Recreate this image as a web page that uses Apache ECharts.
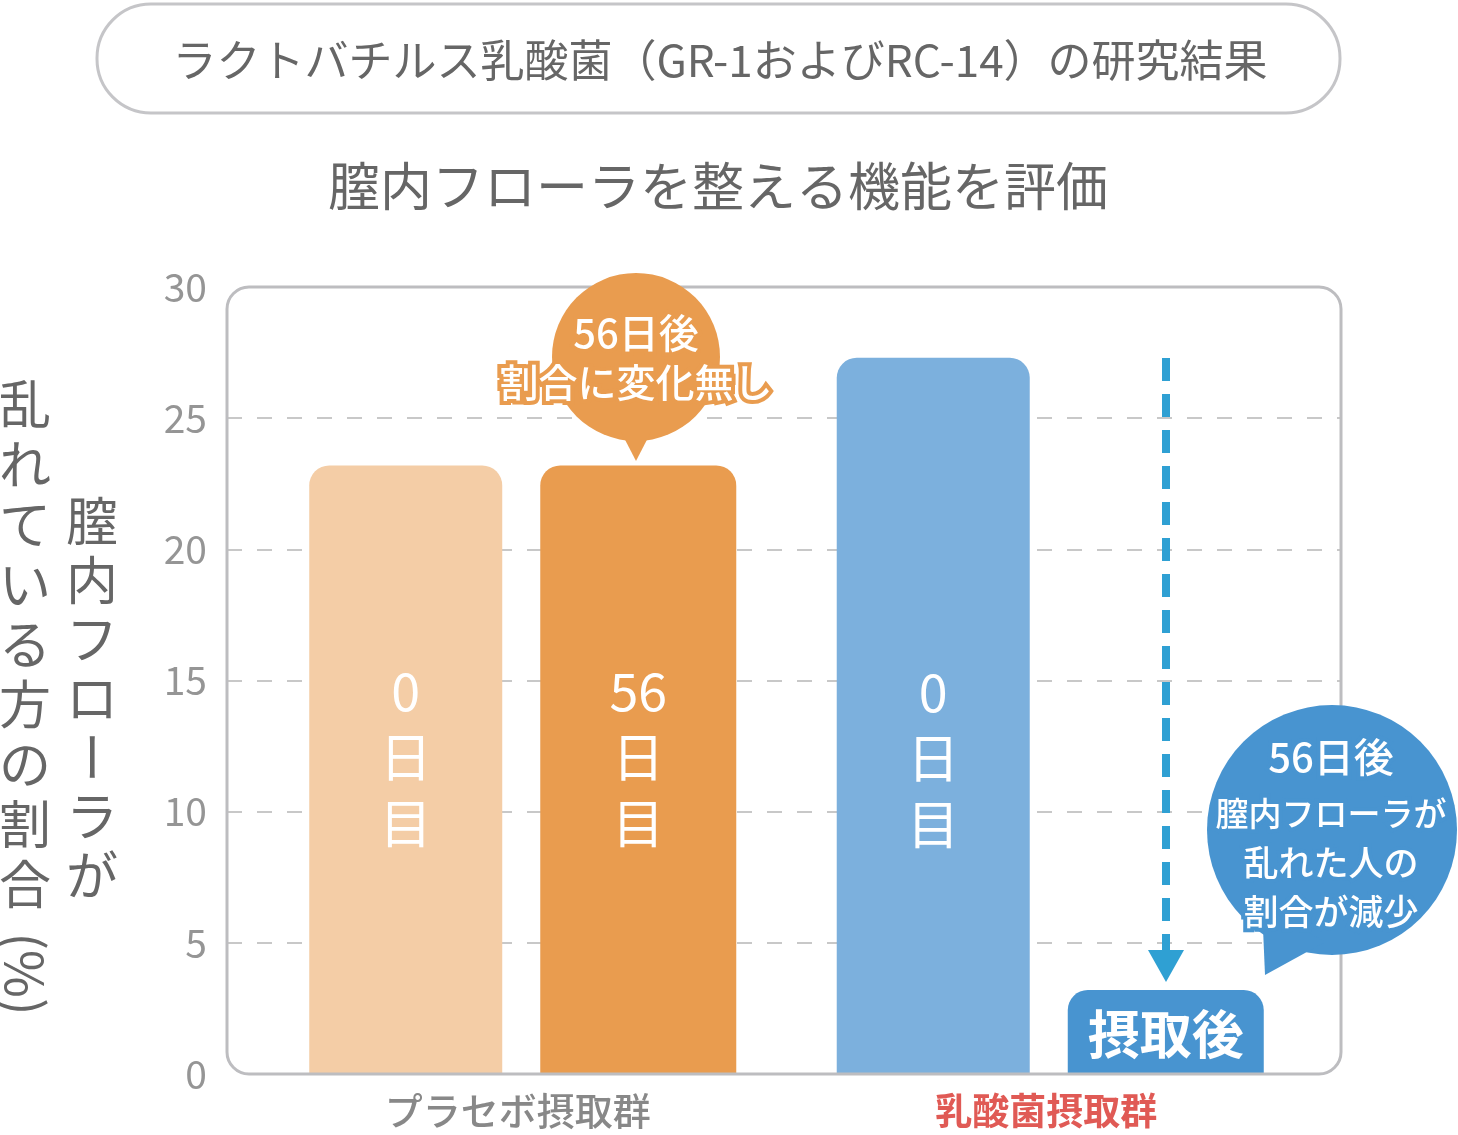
<!DOCTYPE html>
<html><head><meta charset="utf-8">
<script src="https://cdn.jsdelivr.net/npm/echarts@6/dist/echarts.min.js"></script>
<style>html,body{margin:0;padding:0;background:#fff}#c{width:1458px;height:1135px}</style>
</head><body><div id="c"></div>
<script>
// ---- data ----
const categories = ['プラセボ摂取群', '乳酸菌摂取群'];
const seriesNames = ['0日目', '56日後'];
const day0Values = [23.2, 27.3];
const day56Values = [23.2, 3.2];
const day0Labels = ['0\n日\n目', '0\n日\n目'];
const day56Labels = ['56\n日\n目', '摂取後'];
const yMin = 0, yMax = 30, yStep = 5;
const titleText = 'ラクトバチルス乳酸菌（GR-1およびRC-14）の研究結果';
const subtitleText = '膣内フローラを整える機能を評価';
const yNameInner = '膣内フローラが';
const yNameOuter = '乱れている方の割合';
const yNameUnit = '(%)';
const calloutOrange = ['56日後', '割合に変化無し'];
const calloutBlue = ['56日後', '膣内フローラが', '乱れた人の', '割合が減少'];

// ---- styles ----
const FONT = '"Noto Sans CJK JP", "Noto Sans", sans-serif';
const day0Colors = ['#f4cda6', '#7cb0dd'];
const day56Colors = ['#e99c4f', '#4894d0'];
const day0Offsets = [[0, -12], [0, 42]];
const day56Offsets = [[0, -12], [0, 2]];

const chart = echarts.init(document.getElementById('c'), null, {renderer: 'canvas'});

function makeData(values, colors, labels, offsets, lastBold) {
  return values.map((v, i) => {
    const bold = lastBold && i === values.length - 1;
    return {
      value: v,
      itemStyle: {color: colors[i], borderRadius: [20, 20, 0, 0]},
      label: {
        show: true, position: 'inside', offset: offsets[i],
        formatter: labels[i], color: '#fff', fontFamily: FONT,
        fontSize: 52, fontWeight: bold ? 'bold' : 'normal',
        lineHeight: bold ? 56 : 66
      }
    };
  });
}

const graphics = [];
// title pill
graphics.push({type: 'rect', z: 1, shape: {x: 97, y: 4, width: 1243, height: 109, r: 54},
  style: {fill: '#fff', stroke: '#c5c5c8', lineWidth: 3}});
graphics.push({type: 'text', z: 2, x: 720, y: 60, style: {text: titleText, fill: '#666',
  font: '44px ' + FONT, align: 'center', verticalAlign: 'middle'}});
graphics.push({type: 'text', z: 2, x: 718, y: 186, style: {text: subtitleText, fill: '#666',
  font: '52px ' + FONT, align: 'center', verticalAlign: 'middle'}});
// plot frame
graphics.push({type: 'rect', z: 5, shape: {x: 227, y: 287, width: 1114, height: 787, r: 22},
  style: {fill: 'none', stroke: '#bdbdc0', lineWidth: 3}});
// vertical y-axis name
function vchars(str, x, y0, step, out) {
  for (let i = 0; i < str.length; i++) {
    const ch = str[i];
    out.push({type: 'text', z: 2, x: x, y: y0 + i * step,
      rotation: ch === 'ー' ? -Math.PI / 2 : 0,
      style: {text: ch, fill: '#666', font: '52px ' + FONT, align: 'center', verticalAlign: 'middle'}});
  }
}
vchars(yNameInner, 92, 521, 59, graphics);
vchars(yNameOuter, 25, 404, 60, graphics);
graphics.push({type: 'text', z: 2, x: 25, y: 974, rotation: -Math.PI / 2,
  style: {text: yNameUnit, fill: '#666', font: '52px ' + FONT, align: 'center', verticalAlign: 'middle'}});
// dashed arrow
graphics.push({type: 'line', z: 6, shape: {x1: 1166, y1: 358, x2: 1166, y2: 952},
  style: {stroke: '#2fa0d3', lineWidth: 8, lineDash: [23, 13]}});
graphics.push({type: 'polygon', z: 6, shape: {points: [[1148, 950], [1184, 950], [1166, 982]]},
  style: {fill: '#2fa0d3'}});
// orange callout
graphics.push({type: 'circle', z: 10, shape: {cx: 636, cy: 357, r: 84}, style: {fill: '#e99c4f'}});
graphics.push({type: 'polygon', z: 10, shape: {points: [[620, 430], [652, 430], [636, 461]]}, style: {fill: '#e99c4f'}});
graphics.push({type: 'text', z: 11, x: 636, y: 333, style: {text: calloutOrange[0], fill: '#fff',
  stroke: '#e99c4f', lineWidth: 8, lineJoin: 'round', font: '500 40px ' + FONT, align: 'center', verticalAlign: 'middle'}});
graphics.push({type: 'text', z: 11, x: 636, y: 382, style: {text: calloutOrange[1], fill: '#fff',
  stroke: '#e99c4f', lineWidth: 8, lineJoin: 'round', font: '500 39px ' + FONT, align: 'center', verticalAlign: 'middle'}});
// blue callout
graphics.push({type: 'circle', z: 10, shape: {cx: 1332, cy: 830, r: 125}, style: {fill: '#4894d0'}});
graphics.push({type: 'polygon', z: 10, shape: {points: [[1265, 975], [1262, 905], [1325, 942]]}, style: {fill: '#4894d0'}});
const blueY = [757, 813, 863, 912];
const blueSize = [40, 33, 35, 35];
calloutBlue.forEach((t, i) => {
  graphics.push({type: 'text', z: 11, x: 1331, y: blueY[i], style: {text: t, fill: '#fff',
    stroke: '#4894d0', lineWidth: 8, lineJoin: 'round', font: '500 ' + blueSize[i] + 'px ' + FONT,
    align: 'center', verticalAlign: 'middle'}});
});

const option = {
  backgroundColor: '#fff',
  animation: false,
  grid: [
    {left: 227, top: 287, width: 1114, height: 787, containLabel: false},
    {left: 259, top: 287, width: 1055, height: 787, containLabel: false}
  ],
  xAxis: [
    {gridIndex: 0, type: 'value', show: false, min: 0, max: 1},
    {gridIndex: 1, type: 'category', data: categories,
     axisLine: {show: false}, axisTick: {show: false},
     axisLabel: {margin: 18, fontFamily: FONT, fontSize: 38,
       formatter: (v, i) => i === 0 ? '{a|' + v + '}' : '{b|' + v + '}',
       rich: {a: {color: '#888', fontSize: 38, fontFamily: FONT, fontWeight: 500, padding: [0, 10, 0, 0]},
              b: {color: '#e05a55', fontSize: 37, fontFamily: FONT, fontWeight: 'bold', padding: [0, 8, 0, 0]}}}}
  ],
  yAxis: [
    {gridIndex: 0, type: 'value', min: yMin, max: yMax, interval: yStep,
     axisLine: {show: false}, axisTick: {show: false},
     axisLabel: {margin: 20, color: '#959595', fontSize: 39, fontFamily: FONT},
     splitLine: {show: true, showMinLine: false, showMaxLine: false,
       lineStyle: {color: '#c8c8c8', width: 2, type: [15, 15]}}},
    {gridIndex: 1, type: 'value', min: yMin, max: yMax, interval: yStep, show: false,
     splitLine: {show: false}}
  ],
  series: [
    {name: seriesNames[0], type: 'bar', xAxisIndex: 1, yAxisIndex: 1, barWidth: 193, barGap: '19.7%',
     z: 3, data: makeData(day0Values, day0Colors, day0Labels, day0Offsets, false)},
    {name: seriesNames[1], type: 'bar', xAxisIndex: 1, yAxisIndex: 1, barWidth: 196, barGap: '19.7%',
     z: 3, data: makeData(day56Values, day56Colors, day56Labels, day56Offsets, true)}
  ],
  graphic: graphics
};
chart.setOption(option);
</script></body></html>
